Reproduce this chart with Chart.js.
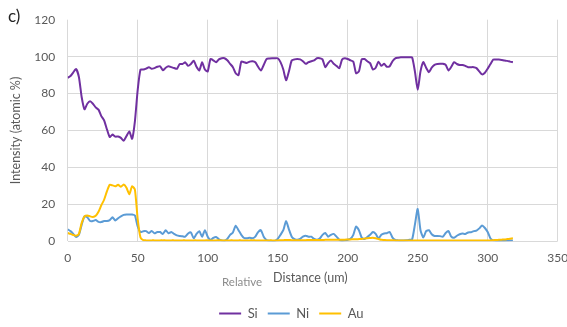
<!DOCTYPE html>
<html>
<head>
<meta charset="utf-8">
<script src="https://cdn.jsdelivr.net/npm/chart.js@4.4.1/dist/chart.umd.min.js"></script>
<style>
  html, body { margin: 0; padding: 0; background: #fff; }
  #wrap { width: 567px; height: 327px; position: relative; }
</style>
</head>
<body>
<div id="wrap"><canvas id="container"></canvas></div>
<script>
// relative distance along the line scan (um)
const distance = [
  0, 2, 4, 6, 8, 10, 12, 14, 16, 18,
  20, 22, 24, 26, 28, 30, 32, 34, 36, 38,
  40, 42, 44, 46, 48, 50, 52, 54, 56, 58,
  60, 62, 64, 66, 68, 70, 72, 74, 76, 78,
  80, 82, 84, 86, 88, 90, 92, 94, 96, 98,
  100, 102, 104, 106, 108, 110, 112, 114, 116, 118,
  120, 122, 124, 126, 128, 130, 132, 134, 136, 138,
  140, 142, 144, 146, 148, 150, 152, 154, 156, 158,
  160, 162, 164, 166, 168, 170, 172, 174, 176, 178,
  180, 182, 184, 186, 188, 190, 192, 194, 196, 198,
  200, 202, 204, 206, 208, 210, 212, 214, 216, 218,
  220, 222, 224, 226, 228, 230, 232, 234, 236, 238,
  240, 242, 244, 246, 248, 250, 252, 254, 256, 258,
  260, 262, 264, 266, 268, 270, 272, 274, 276, 278,
  280, 282, 284, 286, 288, 290, 292, 294, 296, 298,
  300, 302, 304, 306, 308, 310, 312, 314, 316, 318
];

const si = [
  88.5, 89.5, 91.5, 93.3, 89, 78, 71.5, 74.5, 75.8, 74.5,
  72.5, 71.3, 67.8, 65.5, 60.7, 56.5, 57.8, 56.7, 56.7, 56,
  54.5, 57, 59.5, 55.5, 65, 82, 93, 93, 93.5, 94.3,
  93.4, 93.8, 94.5, 94.8, 92.6, 94, 94.8, 94.3, 93.8, 93.4,
  96, 96, 96.9, 95, 96, 97.8, 94.5, 92.5, 96.9, 93,
  92, 98.7, 98, 97, 98.5, 99.1, 99.1, 98, 96.1, 94.3,
  91, 90, 97.3, 97, 96.6, 97.3, 97.5, 97, 94.5, 92.5,
  95.5, 98.7, 99, 99.1, 99.1, 99.1, 97, 93, 87.2, 92,
  97.9, 98.5, 98.7, 98.5, 97.5, 96.1, 97, 97.5, 98, 99.1,
  99.1, 98.5, 94.3, 96.5, 97.9, 96.1, 95, 93.8, 98.5, 99.1,
  98.7, 98, 97.3, 91, 92, 98.5, 98.7, 97.5, 96.5, 93,
  94, 97.3, 95, 96.1, 94.5, 94.8, 97.5, 99.1, 99.4, 99.6,
  99.6, 99.6, 99.6, 99.6, 92, 82, 92, 97, 94, 91.6,
  94, 95.5, 96, 96.1, 96.1, 95.5, 92.5, 94.5, 97, 96,
  95.5, 95.5, 95, 94.3, 94.3, 94.3, 93.8, 92, 90.4, 91.3,
  93.5, 96, 98.4, 98.4, 98.4, 98.2, 97.9, 97.7, 97.3, 97
];

const ni = [
  6.5, 5.5, 4, 2.3, 3.5, 9, 13.5, 13, 11, 11,
  11.5, 10.5, 10.4, 11, 11, 11.5, 13, 11.3, 12.5, 13.5,
  14.3, 14.5, 14.5, 14.5, 14, 8, 5, 5.5, 5.5, 4.5,
  5.6, 4.3, 5, 5, 4, 6, 4.3, 5, 4, 3.2,
  2.9, 2.7, 2.5, 4.2, 4.8, 1.6, 4, 5.5, 2.5, 6,
  2.5, 0.7, 1.8, 2.3, 1.1, 0.5, 0.3, 1.3, 3.5, 4.8,
  8.5, 6, 3.5, 1.8, 1.6, 1.9, 1.6, 2.5, 5, 6,
  2.5, 0.7, 0.3, 0.2, 0.2, 1.3, 3.5, 6, 11, 6.5,
  2.5, 1.2, 0.8, 1.3, 2.5, 3, 2.5, 2.5, 1.3, 0.8,
  1.5, 3.5, 4.5, 2.5, 3.5, 4, 2.5, 0.8, 0.2, 0.5,
  0.8, 1.4, 3.5, 8, 6, 2, 1.2, 2.3, 3.5, 5,
  4, 1.5, 3.5, 4.2, 4.4, 5, 2, 0.7, 0.5, 0.5,
  0.5, 0.6, 0.8, 1, 9, 17.5, 6, 2, 5.5, 6,
  3.8, 2.9, 2.9, 2.8, 2.5, 4.5, 5.5, 2.5, 1.9, 3,
  3.8, 4.2, 4, 4.8, 4.9, 5.5, 5.8, 7, 8.6, 7.2,
  5, 1.5, 0.5, 0.2, 0.2, 0.2, 0.2, 0.3, 0.4, 0.5
];

const au = [
  4.5, 4, 3.4, 3, 4, 10, 13.5, 14, 13.5, 13.2,
  13.8, 16, 19.5, 22.5, 27, 30.6, 30.3, 29.8, 30.6, 29.5,
  30.8, 29, 25.5, 29.8, 28, 12, 2, 0.6, 0.5, 0.5,
  0.5, 0.5, 0.4, 0.5, 0.5, 0.5, 0.4, 0.5, 0.5, 0.5,
  0.5, 0.5, 0.5, 0.4, 0.4, 0.5, 0.5, 0.4, 0.4, 0.5,
  0.5, 0.4, 0.4, 0.5, 0.5, 0.5, 0.4, 0.4, 0.5, 0.5,
  0.5, 0.5, 0.5, 0.4, 0.4, 0.5, 0.5, 0.5, 0.4, 0.4,
  0.4, 0.4, 0.5, 0.5, 0.5, 0.5, 0.6, 0.6, 0.7, 0.7,
  0.6, 0.6, 0.6, 0.6, 0.6, 0.6, 0.7, 0.7, 0.7, 0.7,
  0.7, 0.7, 0.8, 0.8, 0.8, 0.8, 0.8, 0.9, 0.9, 0.9,
  1, 1, 1.1, 1.1, 1.2, 1.3, 1.5, 1.7, 1.8, 1.9,
  1.6, 1.2, 0.8, 0.7, 0.6, 0.6, 0.6, 0.5, 0.5, 0.5,
  0.5, 0.5, 0.5, 0.5, 0.5, 0.5, 0.5, 0.5, 0.5, 0.5,
  0.5, 0.5, 0.5, 0.5, 0.5, 0.5, 0.5, 0.5, 0.5, 0.5,
  0.5, 0.5, 0.5, 0.5, 0.5, 0.5, 0.5, 0.5, 0.5, 0.5,
  0.5, 0.5, 0.6, 0.7, 0.8, 0.9, 1, 1.2, 1.4, 1.6
];

const xTicks = [0, 50, 100, 150, 200, 250, 300, 350];
const yTicks = [0, 20, 40, 60, 80, 100, 120];

const toPoints = (vals) => vals.map((v, i) => ({ x: distance[i], y: v }));

const gridColor = "#d9d9d9";
const textColor = "#595959";

// panel letter + the two-part x axis title
const extraText = {
  id: "extraText",
  afterDraw(chart) {
    const ctx = chart.ctx;
    ctx.save();
    ctx.textBaseline = "middle";
    ctx.textAlign = "left";
    ctx.fillStyle = "#222";
    ctx.font = "17px Lato";
    ctx.fillText("c)", 8, 17);
    ctx.fillStyle = "#8c8c8c";
    ctx.font = "11.5px Lato";
    ctx.fillText("Relative", 222, 282);
    ctx.fillStyle = textColor;
    ctx.font = "12.5px Lato";
    ctx.fillText("Distance (um)", 273, 278);
    ctx.restore();
  },
};

const data = {
  datasets: [
    { label: "Si", data: toPoints(si), borderColor: "#7030a0", backgroundColor: "#7030a0", borderWidth: 2, order: 2 },
    { label: "Ni", data: toPoints(ni), borderColor: "#5b9bd5", backgroundColor: "#5b9bd5", borderWidth: 2, order: 1 },
    { label: "Au", data: toPoints(au), borderColor: "#ffc000", backgroundColor: "#ffc000", borderWidth: 2, order: 0 },
  ],
};

const config = {
  type: "line",
  data: data,
  plugins: [extraText],
  options: {
    responsive: true,
    maintainAspectRatio: false,
    animation: false,
    elements: {
      point: { radius: 0 },
      line: { borderWidth: 2, tension: 0.2 },
    },
    layout: {
      padding: { left: 25, right: 9.3, top: 15, bottom: -3 },
    },
    plugins: {
      tooltip: { enabled: false },
      legend: {
        position: "bottom",
        labels: {
          usePointStyle: true,
          pointStyle: "line",
          pointStyleWidth: 22,
          padding: 10,
          color: textColor,
          font: { family: "Lato", size: 13 },
          sort: (a, b) => a.datasetIndex - b.datasetIndex,
        },
      },
    },
    scales: {
      x: {
        type: "linear",
        min: xTicks[0],
        max: xTicks[xTicks.length - 1],
        afterBuildTicks: (scale) => {
          scale.ticks = xTicks.map((v) => ({ value: v }));
        },
        afterFit: (scale) => {
          scale.height = 55.7;
          scale.paddingLeft = 0;
          scale.paddingRight = 0;
        },
        grid: { color: gridColor, drawTicks: false },
        border: { display: false },
        ticks: {
          padding: 10,
          color: textColor,
          font: { family: "Lato", size: 12 },
          maxRotation: 0,
        },
      },
      y: {
        min: yTicks[0],
        max: yTicks[yTicks.length - 1],
        afterBuildTicks: (scale) => {
          scale.ticks = yTicks.map((v) => ({ value: v }));
        },
        afterFit: (scale) => {
          scale.width = 42.7;
        },
        grid: {
          color: (c) => (c.tick && c.tick.value === yTicks[yTicks.length - 1] ? "rgba(0,0,0,0)" : gridColor),
          drawTicks: false,
        },
        border: { display: false },
        ticks: {
          padding: 12.5,
          color: textColor,
          font: { family: "Lato", size: 12 },
        },
        title: {
          display: true,
          text: "Intensity (atomic %)",
          color: textColor,
          font: { family: "Lato", size: 12.5 },
          padding: { top: -16.5, bottom: 0 },
        },
      },
    },
  },
};

const chart = new Chart(document.getElementById("container"), config);
</script>
</body>
</html>
